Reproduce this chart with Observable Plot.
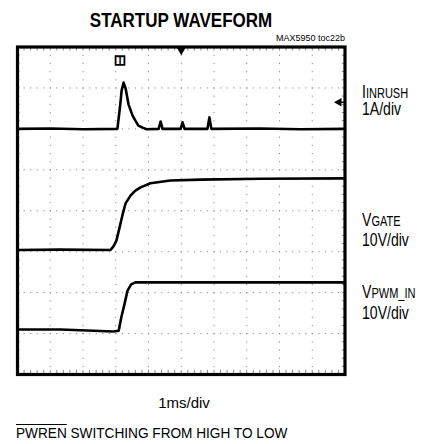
<!DOCTYPE html>
<html>
<head>
<meta charset="utf-8">
<script src="https://cdn.jsdelivr.net/npm/d3@7"></script>
<script src="https://cdn.jsdelivr.net/npm/@observablehq/plot@0.6"></script>
<style>
  html, body { margin: 0; padding: 0; background: #fff; }
  body { width: 427px; height: 444px; position: relative; overflow: hidden;
         font-family: "Liberation Sans Narrow", "Liberation Sans", Arial, sans-serif; color: #000; }
  #title { height: 30px; position: relative; }
  #title span { position: absolute; left: 0; width: 362px; text-align: center; top: 9.7px;
                font-weight: bold; font-size: 20.5px; line-height: 20.5px;
                transform: scaleX(0.83); transform-origin: 181px 0; }
  .abs { position: absolute; white-space: nowrap; }
  .lab { left: 362px; font-size: 18.5px; line-height: 16px; transform: scaleX(0.76); transform-origin: 0 0; }
  .lab small { font-size: 14.5px; }
  #toc { right: 82px; top: 34.4px; font-family: "Liberation Sans", Arial, sans-serif; font-size: 9px; line-height: 9px; }
  #xlab { left: 0; width: 368px; text-align: center; top: 395.3px; font-size: 15px; line-height: 15px;
          font-family: "Liberation Sans", Arial, sans-serif; }
  #caption { left: 16px; top: 425.7px; font-size: 14.5px; line-height: 14.5px;
             font-family: "Liberation Sans", Arial, sans-serif; transform: scaleX(0.94); transform-origin: 0 0; }
  #caption .ov { text-decoration: overline; }
</style>
</head>
<body>
<div id="title"><span>STARTUP WAVEFORM</span></div>
<div id="chart"></div>
<div class="abs" id="toc">MAX5950 toc22b</div>
<div class="abs lab" style="top:83.6px">I<small>INRUSH</small></div>
<div class="abs lab" style="top:100.6px">1A/div</div>
<div class="abs lab" style="top:211.6px">V<small>GATE</small></div>
<div class="abs lab" style="top:231.6px">10V/div</div>
<div class="abs lab" style="top:283.6px">V<small>PWM_IN</small></div>
<div class="abs lab" style="top:304.6px">10V/div</div>
<div class="abs" id="xlab">1ms/div</div>
<div class="abs" id="caption"><span class="ov">PWREN</span> SWITCHING FROM HIGH TO LOW</div>
<script>
// time in ms (1 ms/div), values in screen divisions (0 = bottom, 8 = top)
const inrushTime = [0, 1.01, 2.02, 3.05, 3.11, 3.15, 3.18, 3.24, 3.30, 3.39, 3.51, 3.60, 3.69, 3.82, 3.94, 4.31, 4.37, 4.43, 4.98, 5.04, 5.10, 5.80, 5.86, 5.92, 7.42, 8.64, 10];
const inrushDiv  = [6.00, 6.01, 5.99, 6.00, 6.40, 6.69, 6.94, 7.13, 6.99, 6.60, 6.33, 6.20, 6.08, 6.03, 5.99, 6.00, 6.18, 6.00, 6.00, 6.16, 6.00, 6.00, 6.28, 6.00, 6.01, 5.99, 6.00];

const gateTime = [0, 1.31, 2.84, 2.93, 3.02, 3.11, 3.21, 3.30, 3.45, 3.60, 3.76, 4.06, 4.67, 5.59, 7.42, 10];
const gateDiv  = [3.04, 3.05, 3.04, 3.13, 3.27, 3.57, 3.91, 4.18, 4.37, 4.49, 4.57, 4.67, 4.74, 4.76, 4.78, 4.79];

const pwmTime = [0, 1.31, 2.93, 3.09, 3.17, 3.27, 3.36, 3.47, 3.60, 5.59, 10];
const pwmDiv  = [1.10, 1.10, 1.05, 1.07, 1.40, 1.73, 2.05, 2.20, 2.25, 2.25, 2.25];

const gridX = [1, 2, 3, 4, 5, 6, 7, 8, 9];
const gridY = [1, 2, 3, 4, 5, 6, 7];
const minorX = d3.range(0, 50).map(i => i / 5);
const minorY = d3.range(0, 40).map(i => i / 5);

const triggerMarker = [{t: 3.13, v: 7.67}];
const centerMarker = [{t: 5, v: 8}];
const groundMarker = [{t: 10, v: 6.65}];

const toRows = (ts, vs) => ts.map((t, i) => ({t, v: vs[i]}));
const inrush = toRows(inrushTime, inrushDiv);
const gate = toRows(gateTime, gateDiv);
const pwm = toRows(pwmTime, pwmDiv);

const grid = "#8a8a8a";
const chart = Plot.plot({
  width: 427,
  height: 385,
  marginLeft: 17,
  marginRight: 82.5,
  marginTop: 16.5,
  marginBottom: 41,
  x: {domain: [0, 10], axis: null},
  y: {domain: [0, 8], axis: null},
  marks: [
    Plot.ruleY(gridY, {y: d => d, stroke: grid, strokeWidth: 1, strokeDasharray: "1.2,5.35"}),
    Plot.ruleX(gridX, {x: d => d, stroke: grid, strokeWidth: 1, strokeDasharray: "1.2,6.99"}),
    Plot.ruleX(minorX, {x: d => d, y1: 8, y2: 7.9, stroke: grid, strokeWidth: 1}),
    Plot.ruleX(minorX, {x: d => d, y1: 0, y2: 0.1, stroke: grid, strokeWidth: 1}),
    Plot.ruleY(minorY, {y: d => d, x1: 0, x2: 0.08, stroke: grid, strokeWidth: 1}),
    Plot.ruleY(minorY, {y: d => d, x1: 10, x2: 9.92, stroke: grid, strokeWidth: 1}),
    Plot.line(inrush, {x: "t", y: "v", stroke: "black", strokeWidth: 2.6, strokeLinejoin: "round"}),
    Plot.line(gate, {x: "t", y: "v", stroke: "black", strokeWidth: 2.6, strokeLinejoin: "round"}),
    Plot.line(pwm, {x: "t", y: "v", stroke: "black", strokeWidth: 2.6, strokeLinejoin: "round"}),
    Plot.frame({stroke: "black", strokeWidth: 3.2}),
    Plot.dot(centerMarker, {x: "t", y: "v", symbol: "triangle", rotate: 180, fill: "black", r: 4, dy: 2}),
    Plot.dot(triggerMarker, {x: "t", y: "v", symbol: "square", fill: "white", stroke: "black", strokeWidth: 1.8, r: 5}),
    Plot.text(triggerMarker, {x: "t", y: "v", text: () => "T", fontWeight: "bold", fontSize: 10, fill: "black", fontFamily: "Liberation Sans"}),
    Plot.dot(groundMarker, {x: "t", y: "v", symbol: "triangle", rotate: -90, fill: "black", r: 3.2, dx: -6}),
    Plot.ruleY(groundMarker, {y: "v", x1: 9.86, x2: 10, stroke: "black", strokeWidth: 1.5})
  ]
});
document.getElementById("chart").appendChild(chart);
</script>
</body>
</html>
